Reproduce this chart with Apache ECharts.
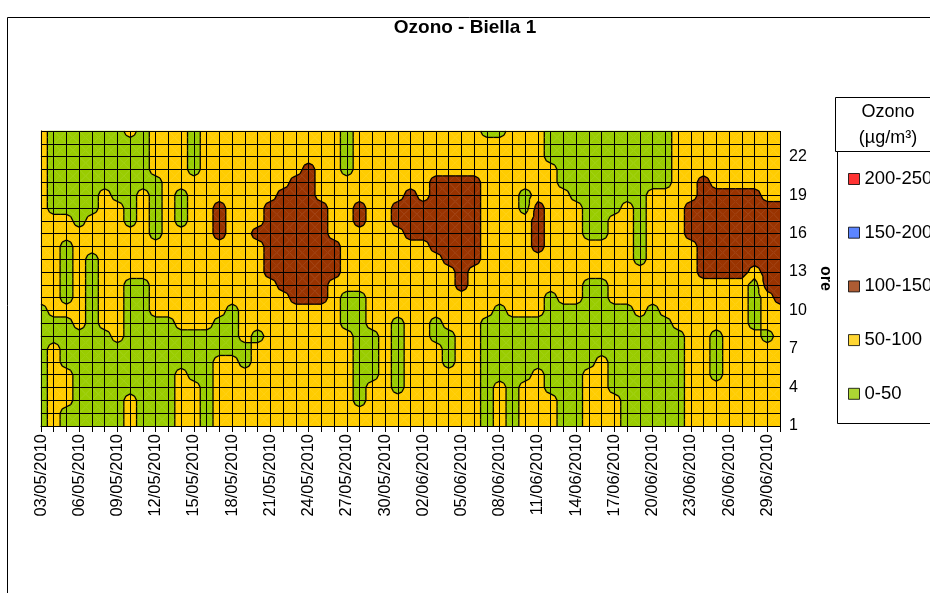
<!DOCTYPE html>
<html>
<head>
<meta charset="utf-8">
<title>Ozono - Biella 1</title>
<script src="https://cdn.jsdelivr.net/npm/echarts@6.0.0/dist/echarts.min.js"></script>
<style>
  html, body { margin: 0; padding: 0; background: #fff; }
  #chart { width: 930px; height: 593px; }
</style>
</head>
<body>
<div id="chart"></div>
<script>
/**
 * Ozono - Biella 1: grafico a curve di livello (giorno x ora)
 */

var giorni = [
  '03/05/2010', '04/05/2010', '05/05/2010', '06/05/2010', '07/05/2010', '08/05/2010', '09/05/2010',
  '10/05/2010', '11/05/2010', '12/05/2010', '13/05/2010', '14/05/2010', '15/05/2010', '16/05/2010',
  '17/05/2010', '18/05/2010', '19/05/2010', '20/05/2010', '21/05/2010', '22/05/2010', '23/05/2010',
  '24/05/2010', '25/05/2010', '26/05/2010', '27/05/2010', '28/05/2010', '29/05/2010', '30/05/2010',
  '31/05/2010', '01/06/2010', '02/06/2010', '03/06/2010', '04/06/2010', '05/06/2010', '06/06/2010',
  '07/06/2010', '08/06/2010', '09/06/2010', '10/06/2010', '11/06/2010', '12/06/2010', '13/06/2010',
  '14/06/2010', '15/06/2010', '16/06/2010', '17/06/2010', '18/06/2010', '19/06/2010', '20/06/2010',
  '21/06/2010', '22/06/2010', '23/06/2010', '24/06/2010', '25/06/2010', '26/06/2010', '27/06/2010',
  '28/06/2010', '29/06/2010', '30/06/2010'
];

var ore = ['1', '2', '3', '4', '5', '6', '7', '8', '9', '10', '11', '12',
  '13', '14', '15', '16', '17', '18', '19', '20', '21', '22', '23', '24'];

// classe letta per ogni giorno, ore 1..24 (0 = 0-50, 1 = 50-100, 2 = 100-150)
var classiGiorno = [
  '000000000011111111111111', '111111100111111110000000', '001110000100000110000000',
  '000000001111111100000000', '000000000000001110000000', '000000001111111111100000',
  '000000011111111111000000', '111000000000111100000001', '000000000000111111100000',
  '000000000111111000001111', '000000000111111111111111', '111110001111111100011111',
  '111100001111111111110000', '000000001111111111111111', '111111000111111222111111',
  '111111000011111111111111', '111110011111111111111111', '111111101111111211111111',
  '111111111111222222111111', '111111111112222222211111', '111111111122222222221111',
  '111111111122222222222111', '111111111122222222111111', '111111111111222111111111',
  '111111110001111111110000', '110000000001111122111111', '111100001111111111111111',
  '111111111111111111111111', '111000000111111122111111', '111111111111111222211111',
  '111111111111111222111111', '111111100111112222221111', '111110001111122222221111',
  '111111111112222222221111', '111111111111122222221111', '000000000111111111111110',
  '111100000011111111111110', '000000000111111111111111', '111100000111111110011111',
  '111110000111112222111111', '111000000001111111111000', '000000000011111111100000',
  '000000000011111111000000', '111110000000111000000000', '111111000000111000000000',
  '111000000011111110000000', '000000000011111111000000', '000000000111100000000000',
  '000000000011111111100000', '000000000111111111100000', '000000001111111111111111',
  '111111111111111222111111', '111111111111222222221111', '111100001111222222211111',
  '111111111111222222211111', '111111111111222222211111', '111111110000122222211111',
  '111111101112222222111111', '111111111122222222111111'
];

// valore stimato (µg/m³) per ogni classe
var valoreClasse = [25, 75, 125];

var soglie = [0, 50, 100, 150, 200, 250];
var fasce = ['0-50', '50-100', '100-150', '150-200', '200-250'];
var coloriFasce = ['#99CC00', '#FFCC00', '#993300', '#3366FF', '#FF0000'];

var FONT = 'Arial, "Liberation Sans", sans-serif';

function valore(i, h) {
  return valoreClasse[+classiGiorno[i].charAt(h - 1)];
}

// celle tra i punti della griglia
var celle = [];
for (var i = 0; i < giorni.length - 1; i++) {
  for (var h = 1; h < ore.length; h++) {
    celle.push([i, h]);
  }
}

function taglia(poly, soglia, sopra) {
  var out = [];
  for (var k = 0; k < poly.length; k++) {
    var a = poly[k], b = poly[(k + 1) % poly.length];
    var ka = sopra ? a.v >= soglia : a.v < soglia;
    var kb = sopra ? b.v >= soglia : b.v < soglia;
    if (ka) out.push(a);
    if (ka !== kb) {
      var t = (soglia - a.v) / (b.v - a.v);
      out.push({ x: a.x + t * (b.x - a.x), y: a.y + t * (b.y - a.y), v: soglia });
    }
  }
  return out;
}

function triangoli(api) {
  var i = api.value(0), h = api.value(1);
  var angoli = [[i, h], [i + 1, h], [i + 1, h + 1], [i, h + 1]].map(function (d) {
    var p = api.coord(d);
    return { x: p[0], y: p[1], v: valore(d[0], d[1]) };
  });
  var c = { x: 0, y: 0, v: 0 };
  angoli.forEach(function (p) { c.x += p.x / 4; c.y += p.y / 4; c.v += p.v / 4; });
  var tri = [];
  for (var k = 0; k < 4; k++) tri.push([angoli[k], angoli[(k + 1) % 4], c]);
  return tri;
}

function disegnaFasce(params, api) {
  var figli = [];
  triangoli(api).forEach(function (tri) {
    for (var f = 0; f < fasce.length; f++) {
      var poly = taglia(taglia(tri, soglie[f], true), soglie[f + 1], false);
      if (poly.length >= 3) {
        figli.push({
          type: 'polygon',
          shape: { points: poly.map(function (p) { return [p.x, p.y]; }) },
          style: { fill: coloriFasce[f], stroke: coloriFasce[f], lineWidth: 0.5 }
        });
      }
    }
  });
  return { type: 'group', children: figli };
}

function disegnaIsolinee(params, api) {
  var figli = [];
  triangoli(api).forEach(function (tri) {
    for (var s = 1; s < soglie.length - 1; s++) {
      var L = soglie[s], pts = [];
      for (var k = 0; k < 3; k++) {
        var a = tri[k], b = tri[(k + 1) % 3];
        if ((a.v >= L) !== (b.v >= L)) {
          var t = (L - a.v) / (b.v - a.v);
          pts.push([a.x + t * (b.x - a.x), a.y + t * (b.y - a.y)]);
        }
      }
      if (pts.length === 2) {
        figli.push({
          type: 'line',
          shape: { x1: pts[0][0], y1: pts[0][1], x2: pts[1][0], y2: pts[1][1] },
          style: { stroke: '#000', lineWidth: 1.3 }
        });
      }
    }
  });
  return { type: 'group', children: figli };
}

var chart = echarts.init(document.getElementById('chart'));

var serieLegenda = fasce.map(function (nome, f) {
  return {
    name: nome, type: 'scatter', xAxisIndex: 1, yAxisIndex: 1, data: [],
    itemStyle: { color: coloriFasce[f] }
  };
});

var option = {
  animation: false,
  backgroundColor: '#fff',
  title: {
    text: 'Ozono - Biella 1',
    left: 'center',
    top: 18,
    padding: 0,
    textStyle: { fontFamily: FONT, fontSize: 19, fontWeight: 'bold', color: '#000' }
  },
  graphic: [
    { type: 'rect', shape: { x: 7.5, y: 17.5, width: 1000, height: 1000 },
      style: { fill: 'none', stroke: '#000', lineWidth: 1 } },
    { type: 'rect', shape: { x: 835.5, y: 97.5, width: 110, height: 54 },
      style: { fill: '#fff', stroke: '#000', lineWidth: 1 } },
    { type: 'rect', shape: { x: 837.5, y: 151.5, width: 110, height: 272 },
      style: { fill: '#fff', stroke: '#000', lineWidth: 1 } },
    { type: 'text', x: 888, y: 112,
      style: { text: 'Ozono', textAlign: 'center', textVerticalAlign: 'middle',
        font: '18px ' + FONT, fill: '#000' } },
    { type: 'text', x: 888, y: 138,
      style: { text: '(µg/m³)', textAlign: 'center', textVerticalAlign: 'middle',
        font: '18px ' + FONT, fill: '#000' } }
  ],
  legend: {
    orient: 'vertical',
    left: 848,
    top: 169,
    padding: 0,
    itemWidth: 11,
    itemHeight: 11,
    itemGap: 33.7,
    icon: 'rect',
    selectedMode: false,
    itemStyle: { borderColor: '#000', borderWidth: 1 },
    textStyle: { fontFamily: FONT, fontSize: 18.5, color: '#000', lineHeight: 20 },
    data: fasce.slice().reverse()
  },
  grid: { left: 41, right: 150, top: 131, bottom: 167 },
  xAxis: [
    {
      type: 'category',
      data: giorni,
      boundaryGap: false,
      z: 5,
      axisLine: { lineStyle: { color: '#000', width: 1 } },
      axisTick: { interval: 0, length: 6, lineStyle: { color: '#000' } },
      axisLabel: {
        interval: 2, rotate: 90, margin: 8, color: '#000',
        fontFamily: FONT, fontSize: 16.5
      },
      splitLine: { show: true, interval: 0, lineStyle: { color: '#000', width: 1 } }
    },
    { type: 'value', min: 0, max: giorni.length - 1, show: false }
  ],
  yAxis: [
    {
      type: 'category',
      data: ore,
      position: 'right',
      boundaryGap: false,
      z: 5,
      name: 'ore',
      nameLocation: 'middle',
      nameRotate: -90,
      nameGap: 37,
      nameTextStyle: { fontFamily: FONT, fontSize: 16, fontWeight: 'bold', color: '#000' },
      axisLine: { lineStyle: { color: '#000', width: 1 } },
      axisTick: { interval: 0, length: 6, lineStyle: { color: '#000' } },
      axisLabel: { interval: 2, margin: 9, color: '#000', fontFamily: FONT, fontSize: 16 },
      splitLine: { show: true, interval: 0, lineStyle: { color: '#000', width: 1 } }
    },
    { type: 'value', min: 1, max: ore.length, show: false }
  ],
  series: [
    {
      type: 'custom', name: 'fasce', xAxisIndex: 1, yAxisIndex: 1, z: 2,
      renderItem: disegnaFasce, data: celle, silent: true
    },
    {
      type: 'custom', name: 'isolinee', xAxisIndex: 1, yAxisIndex: 1, z: 3,
      renderItem: disegnaIsolinee, data: celle, silent: true
    }
  ].concat(serieLegenda)
};

chart.setOption(option);
</script>
</body>
</html>
